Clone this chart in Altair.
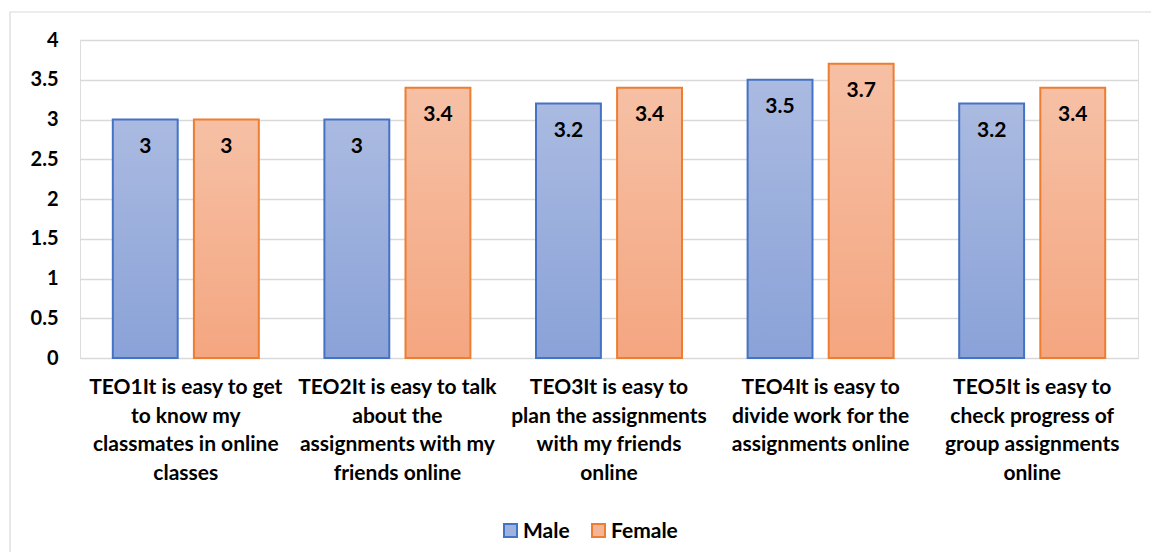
import altair as alt
import pandas as pd

categories = ["TEO1", "TEO2", "TEO3", "TEO4", "TEO5"]
category_lines = [
    "TEO1It is easy to get\nto know my\nclassmates in online\nclasses",
    "TEO2It is easy to talk\nabout the\nassignments with my\nfriends online",
    "TEO3It is easy to\nplan the assignments\nwith my friends\nonline",
    "TEO4It is easy to\ndivide work for the\nassignments online",
    "TEO5It is easy to\ncheck progress of\ngroup assignments\nonline",
]
series = ["Male", "Female"]
male = [3, 3, 3.2, 3.5, 3.2]
female = [3, 3.4, 3.4, 3.7, 3.4]
y_ticks = [0, 0.5, 1, 1.5, 2, 2.5, 3, 3.5, 4]

rows = []
for c, m, f in zip(categories, male, female):
    rows.append({"cat": c, "series": "Male", "value": m})
    rows.append({"cat": c, "series": "Female", "value": f})
df = pd.DataFrame(rows)
lab_df = pd.DataFrame({"cat": categories, "label": category_lines})

FONT = "Lato"
FS = 21
W, H = 1058, 318

xs = alt.Scale(domain=categories, paddingInner=0.31, paddingOuter=0.155)
xo = alt.Scale(domain=series, paddingInner=0.2, paddingOuter=0)

male_grad = alt.Gradient(
    gradient="linear", x1=0, x2=0, y1=0, y2=1,
    stops=[alt.GradientStop(color="#AABAE1", offset=0),
           alt.GradientStop(color="#8AA2D8", offset=1)])
female_grad = alt.Gradient(
    gradient="linear", x1=0, x2=0, y1=0, y2=1,
    stops=[alt.GradientStop(color="#F6C0A5", offset=0),
           alt.GradientStop(color="#F4A680", offset=1)])

base = alt.Chart(df).encode(
    x=alt.X("cat:N", scale=xs, axis=None, sort=categories),
    xOffset=alt.XOffset("series:N", scale=xo, sort=series),
    y=alt.Y("value:Q", scale=alt.Scale(domain=[0, 4], nice=False),
            axis=alt.Axis(values=y_ticks, format="~g", title=None, domain=False, ticks=False,
                          grid=True, gridColor="#D9D9D9", gridWidth=1.4,
                          labelFont=FONT, labelFontWeight="bold", labelFontSize=FS - 1,
                          labelColor="#000000", labelPadding=22)),
)

frame = alt.Chart(pd.DataFrame({"a": [0]})).mark_rect(
    fill="transparent", stroke="#D9D9D9", strokeWidth=1.2
).encode(x=alt.value(-70), x2=alt.value(1100), y=alt.value(-28), y2=alt.value(600))

male_bars = base.transform_filter(alt.datum.series == "Male").mark_bar(
    fill=male_grad, stroke="#4472C4", strokeWidth=2)
female_bars = base.transform_filter(alt.datum.series == "Female").mark_bar(
    fill=female_grad, stroke="#ED7D31", strokeWidth=2)

values = base.mark_text(font=FONT, fontWeight="bold", fontSize=FS, color="#000000",
                        baseline="middle", dy=27).encode(text=alt.Text("value:Q"))

xlabels = alt.Chart(lab_df).mark_text(
    font=FONT, fontWeight="bold", fontSize=FS, color="#000000",
    baseline="top", lineBreak="\n", lineHeight=28.5, align="center"
).encode(x=alt.X("cat:N", scale=xs, axis=None, sort=categories),
         y=alt.value(H + 19), text="label:N")

leg_df = pd.DataFrame({"series": series})
sw_m = alt.Chart(leg_df).transform_filter(alt.datum.series == "Male").mark_rect(
    fill="#9FB1DE", stroke="#4472C4", strokeWidth=2
).encode(x=alt.value(424), x2=alt.value(437), y=alt.value(484), y2=alt.value(497))
tx_m = alt.Chart(leg_df).transform_filter(alt.datum.series == "Male").mark_text(
    font=FONT, fontWeight="bold", fontSize=FS, align="left", baseline="middle", color="#000000"
).encode(x=alt.value(443), y=alt.value(492), text="series:N")
sw_f = alt.Chart(leg_df).transform_filter(alt.datum.series == "Female").mark_rect(
    fill="#F5B496", stroke="#ED7D31", strokeWidth=2
).encode(x=alt.value(512), x2=alt.value(525), y=alt.value(484), y2=alt.value(497))
tx_f = alt.Chart(leg_df).transform_filter(alt.datum.series == "Female").mark_text(
    font=FONT, fontWeight="bold", fontSize=FS, align="left", baseline="middle", color="#000000"
).encode(x=alt.value(531), y=alt.value(492), text="series:N")

chart = alt.layer(frame, male_bars, female_bars, values, xlabels, sw_m, tx_m, sw_f, tx_f).properties(
    width=W, height=H,
    autosize=alt.AutoSizeParams(type="none"),
    padding={"left": 72, "top": 32, "right": 13, "bottom": 194},
).configure_view(stroke=None).configure(background="white")

chart.save("out.html", embed_options={"renderer": "svg", "actions": False})
